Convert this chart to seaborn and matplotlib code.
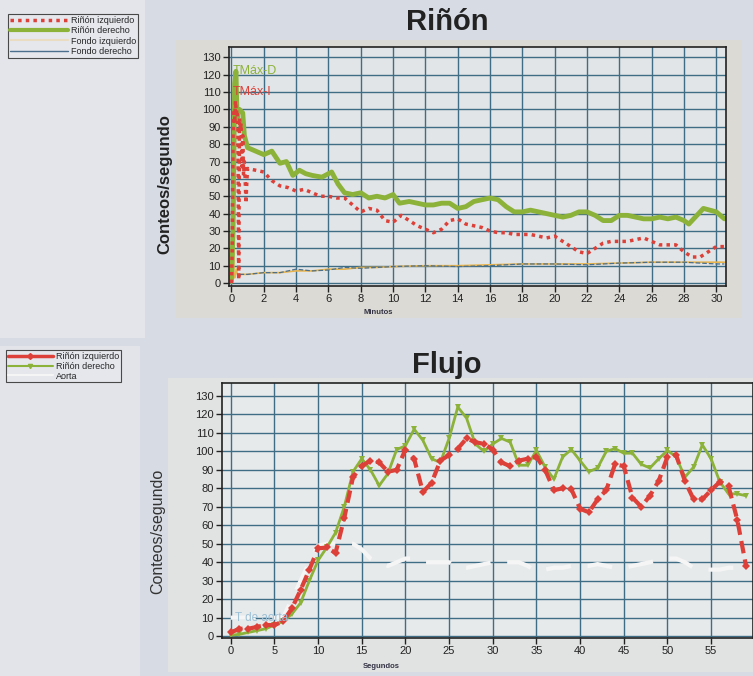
import matplotlib
matplotlib.use("Agg")
import matplotlib.pyplot as plt
from matplotlib.patches import Rectangle
from matplotlib.lines import Line2D
import seaborn as sns

# ---------------- data: Riñón (minutes) ----------------
t_der = [0, 0.1, 0.2, 0.28, 0.35, 0.42, 0.5, 0.6, 0.7, 0.8, 1.0, 1.5, 2.0, 2.5, 3.0, 3.4, 3.8, 4.2,
         4.6, 5.0, 5.6, 6.2, 6.6, 7.0, 7.5, 8.0, 8.5, 9.0, 9.5, 10.0, 10.4, 11.0, 11.5, 12.0, 12.5,
         13.0, 13.5, 14.0, 14.5, 15.0, 15.5, 16.0, 16.5, 17.0, 17.5, 18.0, 18.5, 19.0, 19.5, 20.0,
         20.5, 21.0, 21.5, 22.0, 22.5, 23.0, 23.5, 24.0, 24.5, 25.0, 25.5, 26.0, 26.5, 27.0, 27.5,
         28.0, 28.3, 28.7, 29.2, 29.6, 30.0, 30.5]
rinon_der = [1, 30, 115, 122, 95, 100, 100, 99, 98, 85, 78, 76, 74, 76, 69, 70, 62, 65,
             63, 62, 61, 64, 57, 52, 51, 52, 49, 50, 49, 51, 46, 47, 46, 45, 45,
             46, 46, 43, 44, 47, 48, 49, 48, 44, 41, 41, 42, 41, 40, 39,
             38, 39, 41, 41, 39, 36, 36, 39, 39, 38, 37, 37, 38, 37, 38,
             36, 34, 38, 43, 42, 41, 37]

t_izq = [0, 0.05, 0.1, 0.15, 0.2, 0.25, 0.3, 0.35, 0.4, 0.45, 0.5, 0.55, 0.6, 0.65, 0.7, 0.75,
         0.8, 0.85, 0.9, 0.95, 1.0, 1.5, 2.0, 2.5, 3.0, 3.5, 4.0, 4.5, 5.0, 5.5, 6.0, 6.5, 7.0,
         7.5, 8.0, 8.5, 9.0, 9.5, 10.0, 10.5, 11.0, 11.5, 12.0, 12.5, 13.0, 13.5, 14.0, 14.5,
         15.0, 15.5, 16.0, 16.5, 17.0, 17.5, 18.0, 18.5, 19.0, 19.5, 20.0, 20.5, 21.0, 21.5,
         22.0, 22.5, 23.0, 23.5, 24.0, 24.5, 25.0, 25.5, 26.0, 26.5, 27.0, 27.5, 28.0, 28.5,
         29.0, 29.5, 30.0, 30.5]
rinon_izq = [0, 20, 85, 100, 92, 105, 98, 100, 90, 2, 95, 88, 92, 67, 85, 62,
             70, 60, 46, 58, 66, 65, 64, 59, 56, 55, 53, 54, 52, 50, 50, 49, 49,
             45, 41, 43, 42, 36, 35, 39, 36, 33, 31, 29, 31, 36, 37, 34,
             33, 32, 30, 29, 29, 28, 28, 28, 27, 26, 27, 24, 21, 18,
             17, 20, 23, 24, 24, 24, 25, 26, 24, 22, 22, 22, 18, 15,
             15, 18, 21, 21]

t_fondo_izq = [0, 0.05, 0.1, 0.15, 0.2, 0.3, 0.4, 0.5, 1, 2, 3, 4, 5, 6, 7, 8, 9, 10, 12, 14,
               16, 18, 20, 22, 24, 26, 28, 30, 30.5]
fondo_izq = [0, 15, 80, 5, 3, 8, 4, 5, 5, 6, 6, 7, 7, 8, 8, 9, 9, 9.5, 10, 10,
             10.5, 11, 11, 11, 11.5, 12, 12, 12, 12]

t_fondo_der = [0.5, 1, 2, 3, 4, 5, 6, 7, 8, 9, 10, 12, 14, 16, 18, 20, 22, 24, 26, 28, 30, 30.5]
fondo_der = [5, 5, 6, 6, 8, 7, 7.5, 9, 8.5, 9, 9.5, 10, 9.5, 10, 11, 11, 10.5, 11.5, 12, 12, 11, 11]

# ---------------- data: Flujo (seconds) ----------------
segundos = list(range(60))
flujo_izq = [2, 4, 4, 5, 6, 6, 8, 15, 25, 36, 47.5, 48, 45, 64, 86, 92, 95, 94, 89, 90,
             101, 96, 78, 83, 95, 98, 101.5, 107, 105, 104, 101, 94, 92, 95, 96, 97, 90, 79, 80, 79.5,
             69, 67, 74, 79, 93, 92, 75, 70, 76, 84, 97, 98, 84, 74, 74, 79, 83.5, 81, 63, 38]
flujo_der = [0.5, 1, 2, 3, 4, 6, 8, 12, 18, 30, 41, 48, 56, 70, 89, 96, 90, 81.5, 88, 101,
             103, 112, 106, 96, 94, 107, 124, 118, 104, 100, 104, 107, 105, 92.5, 92.5, 100.5, 91.5, 85, 97, 101,
             95, 89, 91, 100, 101.5, 99, 99, 93, 91, 96, 100.5, 97, 86, 91.5, 103.5, 96, 83.5, 77, 77, 76]
aorta = [10, 10, 10, 10, 10, 10, 10, 20, 30, 40, 49, 50, 50, 50, 50, 47, 42, 40, 38, 40,
         42, 42, 40, 40, 40, 40, 37, 37, 38, 39, 40, 40, 40, 40, 38, 35, 36, 37, 37, 38,
         38, 38, 39, 38, 37, 37, 38, 39, 40, 41, 42, 42, 40, 37, 36, 36, 36, 37, 37, 37]

y_ticks = list(range(0, 131, 10))
x_ticks_min = list(range(0, 31, 2))
x_ticks_seg = list(range(0, 56, 5))

# ---------------- colors ----------------
RED = "#dc4038"
GREEN = "#8cb23a"
ORANGE = "#e9b44c"
BLUE = "#4b6f8c"
GRID = "#3f6d86"

W, H = 753, 676
sns.set_theme(style="white")
plt.rcParams["font.family"] = ["Liberation Sans", "DejaVu Sans"]

fig = plt.figure(figsize=(W / 100, H / 100), dpi=100)
fig.patch.set_facecolor("#d7dbe3")

bg = fig.add_axes([0, 0, 1, 1], zorder=-10)
bg.set_xlim(0, W)
bg.set_ylim(H, 0)
bg.axis("off")


def rect(x0, y0, x1, y1, color):
    bg.add_patch(Rectangle((x0, y0), x1 - x0, y1 - y0, facecolor=color, edgecolor="none"))


rect(0, 0, 145, 338, "#e3e5eb")
rect(0, 346, 140, 676, "#e2e4ea")
rect(176, 40, 742, 318, "#dcdad4")
rect(168, 378, 753, 672, "#e1e2e2")


def box(x0, y0, x1, y1):
    return [x0 / W, 1 - y1 / H, (x1 - x0) / W, (y1 - y0) / H]


def style_axes(ax, face):
    ax.set_facecolor(face)
    ax.grid(True, color=GRID, linewidth=1.0)
    ax.set_axisbelow(True)
    for s in ax.spines.values():
        s.set_color("#222222")
        s.set_linewidth(1.2)
    ax.tick_params(axis="both", direction="out", length=4, width=1, color="#222222",
                   labelsize=8, labelcolor="#222222", pad=2, left=True, bottom=True)
    ax.set_yticks(y_ticks)


# ---------------- top: Riñón ----------------
ax1 = fig.add_axes(box(229, 47, 726, 286))
style_axes(ax1, "#e2e5e7")
sns.lineplot(x=t_fondo_izq, y=fondo_izq, ax=ax1, color=ORANGE, linewidth=1.2, sort=False)
sns.lineplot(x=t_fondo_der, y=fondo_der, ax=ax1, color=BLUE, linewidth=0.9, linestyle="--", sort=False)
sns.lineplot(x=t_der, y=rinon_der, ax=ax1, color=GREEN, linewidth=3.5, sort=False)
sns.lineplot(x=t_izq, y=rinon_izq, ax=ax1, color=RED, linewidth=2.5, linestyle=(0, (1, 1.2)), sort=False)
ax1.set_xlim(-0.15, 30.6)
ax1.set_ylim(-1.7, 136)
ax1.set_xticks(x_ticks_min)
ax1.set_xlabel("")
ax1.set_ylabel("")
ax1.text(0.1, 122, "TMáx-D", color=GREEN, fontsize=9, va="center")
ax1.text(0.1, 110, "TMáx-I", color=RED, fontsize=9, va="center")
fig.text(165 / W, 1 - 184 / H, "Conteos/segundo", fontsize=12, fontweight="bold",
         rotation=90, ha="center", va="center", color="#222222")
fig.text(378 / W, 1 - 312 / H, "Minutos", fontsize=5.5, fontweight="bold", ha="center",
         va="center", color="#333344")
fig.text(447 / W, 1 - 22 / H, "Riñón", fontsize=21, fontweight="bold", ha="center",
         va="center", color="#222222")

# ---------------- bottom: Flujo ----------------
ax2 = fig.add_axes(box(222, 383, 753, 638))
style_axes(ax2, "#e7eaeb")
sns.lineplot(x=segundos, y=aorta, ax=ax2, color="#f5f5f5", linewidth=3, linestyle=(0, (6, 4)))
sns.lineplot(x=segundos, y=flujo_der, ax=ax2, color=GREEN, linewidth=2, marker="v",
             markersize=5, markeredgewidth=0)
sns.lineplot(x=segundos, y=flujo_izq, ax=ax2, color=RED, linewidth=3, linestyle=(0, (3, 1.5)),
             marker="D", markersize=4.5, markeredgewidth=0)
ax2.text(0.5, 10, "T de aorta", color="#9cc0d6", fontsize=8.5, va="center")
ax2.set_xlim(-1, 59.8)
ax2.set_ylim(-1, 137)
ax2.set_xticks(x_ticks_seg)
ax2.set_xlabel("")
ax2.set_ylabel("")
fig.text(158 / W, 1 - 531 / H, "Conteos/segundo", fontsize=11.5, rotation=90,
         ha="center", va="center", color="#333333")
fig.text(381 / W, 1 - 667 / H, "Segundos", fontsize=5.5, fontweight="bold", ha="center",
         va="center", color="#333344")
fig.text(447 / W, 1 - 365 / H, "Flujo", fontsize=21, fontweight="bold", ha="center",
         va="center", color="#222222")

# ---------------- legends ----------------
h_top = [Line2D([], [], color=RED, lw=2.5, ls=(0, (1, 1.2))),
         Line2D([], [], color=GREEN, lw=3),
         Line2D([], [], color="#e9dcc0", lw=1.5),
         Line2D([], [], color=BLUE, lw=1)]
l_top = ["Riñón izquierdo", "Riñón derecho", "Fondo izquierdo", "Fondo derecho"]
lg1 = fig.legend(h_top, l_top, loc="upper left", bbox_to_anchor=(8 / W, 1 - 14 / H),
                 fontsize=6.5, frameon=True, fancybox=False, edgecolor="#222222",
                 facecolor="#e6e8ee", borderpad=0.2, handlelength=6.5, labelspacing=0.15,
                 handletextpad=0.3, borderaxespad=0)
lg1.get_frame().set_linewidth(0.8)

h_bot = [Line2D([], [], color=RED, lw=2.5, marker="D", markersize=3),
         Line2D([], [], color=GREEN, lw=1.5, marker="v", markersize=3),
         Line2D([], [], color="#f5f5f5", lw=1.5)]
l_bot = ["Riñón izquierdo", "Riñón derecho", "Aorta"]
lg2 = fig.legend(h_bot, l_bot, loc="upper left", bbox_to_anchor=(6 / W, 1 - 350 / H),
                 fontsize=6.5, frameon=True, fancybox=False, edgecolor="#222222",
                 facecolor="#e6e8ee", borderpad=0.2, handlelength=5, labelspacing=0.1,
                 handletextpad=0.3, borderaxespad=0)
lg2.get_frame().set_linewidth(0.8)

fig.savefig("out.png", dpi=100, facecolor=fig.get_facecolor())
